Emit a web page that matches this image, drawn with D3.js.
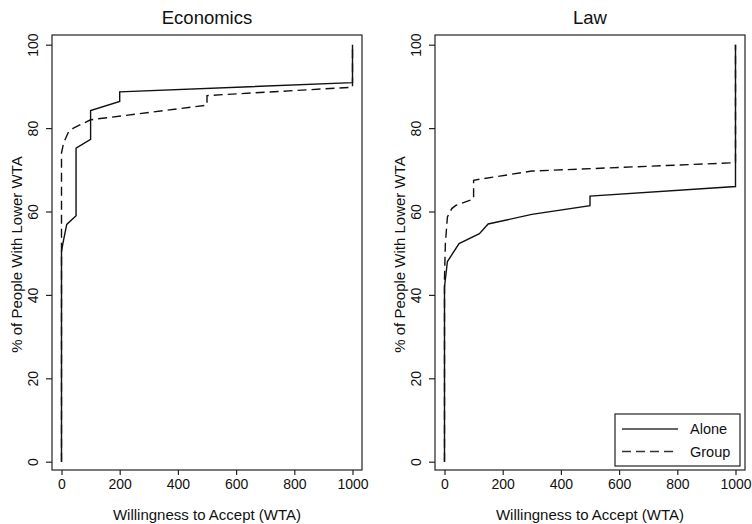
<!DOCTYPE html>
<html lang="en">
  <head>
    <meta charset="UTF-8">
    <title>WTA distributions</title>
    <style>
      body { margin: 0; background: #fff; }
      text { font-family: "Liberation Sans", Arial, sans-serif; fill: #111; }
    </style>
  </head>
  <body>
    <div id="chart-container"></div>
    <script src="https://d3js.org/d3.v7.min.js"></script>
    <script>
      // ---- data ----
      const xTicks = [0, 200, 400, 600, 800, 1000];
      const yTicks = [0, 20, 40, 60, 80, 100];
      const panelTitles = ["Economics", "Law"];
      const seriesNames = ["Alone", "Group"];

      // Economics
      const econAloneWta = [0, 0, 5, 18, 50, 50, 100, 100, 200, 200, 1000, 1000];
      const econAlonePct = [0, 50.4, 52.4, 56.9, 59, 75.2, 77.3, 84.2, 86.4, 88.7, 90.9, 100];
      const econGroupWta = [0, 0, 7, 24, 41, 100, 500, 500, 1000, 1000];
      const econGroupPct = [0, 74, 76.4, 79.1, 80, 82, 85.5, 87.8, 89.8, 100];

      // Law
      const lawAloneWta = [0, 0, 10, 50, 120, 150, 300, 500, 500, 1000, 1000];
      const lawAlonePct = [0, 41.9, 48, 52.3, 54.7, 57, 59.3, 61.4, 63.7, 66, 100];
      const lawGroupWta = [0, 0, 3, 10, 25, 40, 100, 100, 300, 1000, 1000];
      const lawGroupPct = [0, 44, 52.3, 58.7, 60.7, 61.5, 63, 67.5, 69.7, 71.7, 100];

      const zip = (xs, ys) => xs.map((v, i) => ({ wta: v, pct: ys[i] }));

      const panels = [
        { title: panelTitles[0], left: 52, alone: zip(econAloneWta, econAlonePct), group: zip(econGroupWta, econGroupPct), legend: false },
        { title: panelTitles[1], left: 435, alone: zip(lawAloneWta, lawAlonePct), group: zip(lawGroupWta, lawGroupPct), legend: true }
      ];

      const W = 752, H = 524;
      const frameW = 310, frameTop = 35, frameBottom = 470;
      const dashes = "9,5";

      const svg = d3.select("#chart-container")
        .append("svg")
        .attr("width", W)
        .attr("height", H);

      panels.forEach(function(p) {
        const g = svg.append("g").attr("transform", "translate(" + p.left + ",0)");

        const x = d3.scaleLinear().domain([0, 1000]).range([9.5, frameW - 9.5]);
        const y = d3.scaleLinear().domain([0, 100]).range([461.7, 44.7]);

        // frame
        g.append("rect")
          .attr("x", 0).attr("y", frameTop)
          .attr("width", frameW).attr("height", frameBottom - frameTop)
          .attr("fill", "none")
          .attr("stroke", "#222")
          .attr("stroke-width", 1.2);

        // x axis
        const xa = g.append("g")
          .attr("transform", "translate(0," + frameBottom + ")")
          .call(d3.axisBottom(x).tickValues(xTicks).tickFormat(d3.format("d")).tickSize(5).tickPadding(4));
        xa.select(".domain").remove();
        xa.selectAll("line").attr("stroke", "#222").attr("stroke-width", 1.2);
        xa.selectAll("text").style("font-size", "14px").attr("fill", "#111")
          .style("font-family", "'Liberation Sans', Arial, sans-serif");

        // y axis
        const ya = g.append("g")
          .call(d3.axisLeft(y).tickValues(yTicks).tickSize(6));
        ya.select(".domain").remove();
        ya.selectAll("line").attr("stroke", "#222").attr("stroke-width", 1.2);
        ya.selectAll("text")
          .attr("x", null).attr("dy", null)
          .attr("text-anchor", "middle")
          .attr("transform", "translate(-14,0) rotate(-90)")
          .style("font-size", "14px").attr("fill", "#111")
          .style("font-family", "'Liberation Sans', Arial, sans-serif");

        // titles
        g.append("text")
          .attr("x", frameW / 2).attr("y", 24)
          .attr("text-anchor", "middle")
          .style("font-size", "18.5px")
          .text(p.title);

        g.append("text")
          .attr("x", frameW / 2).attr("y", 520)
          .attr("text-anchor", "middle")
          .style("font-size", "15px")
          .text("Willingness to Accept (WTA)");

        g.append("text")
          .attr("transform", "translate(-30," + ((frameTop + frameBottom) / 2 + 2) + ") rotate(-90)")
          .attr("text-anchor", "middle")
          .style("font-size", "15px")
          .text("% of People With Lower WTA");

        // lines
        const line = d3.line()
          .x(function(d) { return x(d.wta); })
          .y(function(d) { return y(d.pct); });

        g.append("path")
          .datum(p.group)
          .attr("fill", "none")
          .attr("stroke", "#111")
          .attr("stroke-width", 1.4)
          .attr("stroke-dasharray", dashes)
          .attr("d", line);

        g.append("path")
          .datum(p.alone)
          .attr("fill", "none")
          .attr("stroke", "#111")
          .attr("stroke-width", 1.4)
          .attr("d", line);

        // legend
        if (p.legend) {
          const lg = g.append("g").attr("transform", "translate(180,414)");
          lg.append("rect")
            .attr("width", 125).attr("height", 52)
            .attr("fill", "#fff")
            .attr("stroke", "#222")
            .attr("stroke-width", 1.2);
          seriesNames.forEach(function(name, i) {
            const ly = 15 + i * 22.5;
            lg.append("line")
              .attr("x1", 7).attr("x2", 63)
              .attr("y1", ly).attr("y2", ly)
              .attr("stroke", "#333")
              .attr("stroke-width", 1.3)
              .attr("stroke-dasharray", i === 1 ? dashes : null);
            lg.append("text")
              .attr("x", 75).attr("y", ly + 5)
              .style("font-size", "14.5px")
              .text(name);
          });
        }
      });
    </script>
  </body>
</html>
